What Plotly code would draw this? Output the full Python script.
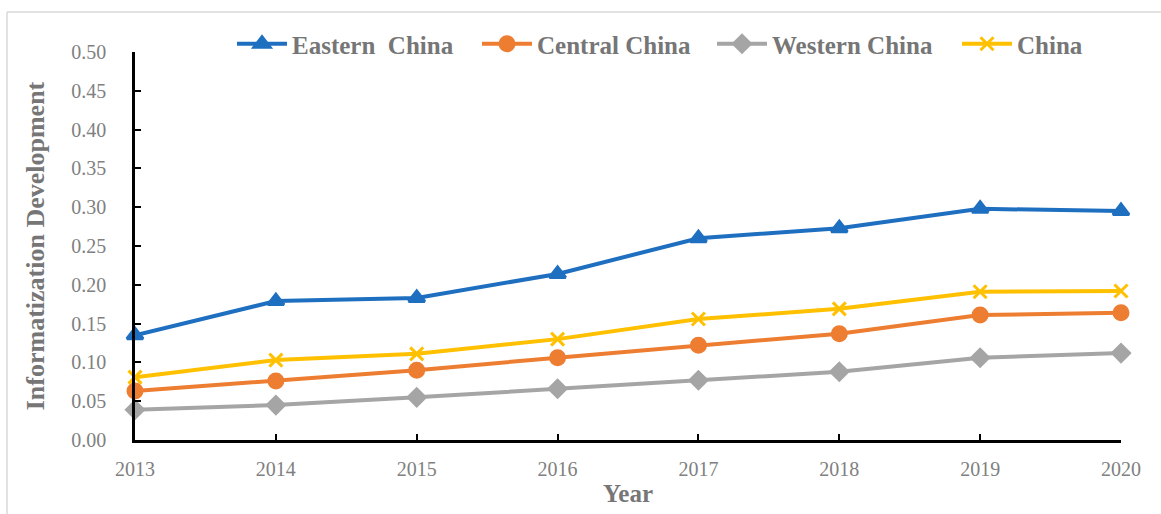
import plotly.graph_objects as go

years = [2013, 2014, 2015, 2016, 2017, 2018, 2019, 2020]
eastern = [0.135, 0.179, 0.183, 0.214, 0.260, 0.273, 0.298, 0.295]
central = [0.063, 0.076, 0.090, 0.106, 0.122, 0.137, 0.161, 0.164]
western = [0.039, 0.045, 0.055, 0.066, 0.077, 0.088, 0.106, 0.112]
china = [0.081, 0.103, 0.111, 0.130, 0.156, 0.169, 0.191, 0.192]
y_ticks = [0.00, 0.05, 0.10, 0.15, 0.20, 0.25, 0.30, 0.35, 0.40, 0.45, 0.50]

series = [
    ("Eastern  China", eastern, "#1F6FC1", "triangle-up", 14, "legend", 238),
    ("Central China", central, "#ED7D31", "circle", 14, "legend2", 483),
    ("Western China", western, "#A5A5A5", "diamond", 13, "legend3", 718),
    ("China", china, "#FFC000", "x-thin-open", 13, "legend4", 963),
]

FONT = "Liberation Serif"
grey = "#808080"
tgrey = "#767676"

fig = go.Figure()
legends = {}
for name, vals, color, sym, size, lg, lx in series:
    fig.add_trace(go.Scatter(
        x=years, y=vals, name=name, mode="lines+markers", legend=lg,
        line=dict(color=color, width=4),
        marker=dict(symbol=sym, size=size, color=color,
                    line=dict(color=color, width=3)),
        cliponaxis=False,
    ))
    legends[lg] = dict(orientation="h", x=(lx - 6) / 1161, xanchor="left", xref="container",
                       y=1 - 44 / 514, yanchor="middle", yref="container",
                       font=dict(family=FONT, size=25, color=tgrey, weight="bold"),
                       bgcolor="rgba(0,0,0,0)", itemwidth=50)

fig.update_layout(
    width=1161, height=514,
    margin=dict(l=135, r=40, t=52, b=74, autoexpand=False),
    paper_bgcolor="white", plot_bgcolor="white",
    font=dict(family=FONT, color=grey, size=20),
    showlegend=True,
    **legends,
    xaxis=dict(range=[2013, 2020], tickvals=years, ticktext=[str(y) for y in years],
               showgrid=False, zeroline=False, showline=True, linecolor="black", linewidth=2.5,
               ticks="inside", ticklen=6, tickwidth=2, tickcolor="black",
               tickfont=dict(family=FONT, size=20, color=grey),
               ticklabelstandoff=9,
               title=dict(text="Year", font=dict(family=FONT, size=25, color=tgrey, weight="bold"),
                          standoff=6)),
    yaxis=dict(range=[0, 0.5], tickvals=y_ticks, ticktext=[f"{v:.2f}" for v in y_ticks],
               showgrid=False, zeroline=False, showline=True, linecolor="black", linewidth=2.5,
               ticks="inside", ticklen=6, tickwidth=2, tickcolor="black",
               tickfont=dict(family=FONT, size=20, color=grey),
               ticklabelstandoff=22,
               title=dict(text="Informatization Development",
                          font=dict(family=FONT, size=26, color=tgrey, weight="bold"),
                          standoff=20)),
    shapes=[
        dict(type="line", xref="paper", yref="paper", x0=(7-135)/986, x1=(1161-135)/986,
             y0=(440-12)/388, y1=(440-12)/388, line=dict(color="#d9d9d9", width=1.5)),
        dict(type="line", xref="paper", yref="paper", x0=(7-135)/986, x1=(7-135)/986,
             y0=(440-12)/388, y1=(440-520)/388, line=dict(color="#d9d9d9", width=1.5)),
    ],
)

fig.write_html("out.html")
